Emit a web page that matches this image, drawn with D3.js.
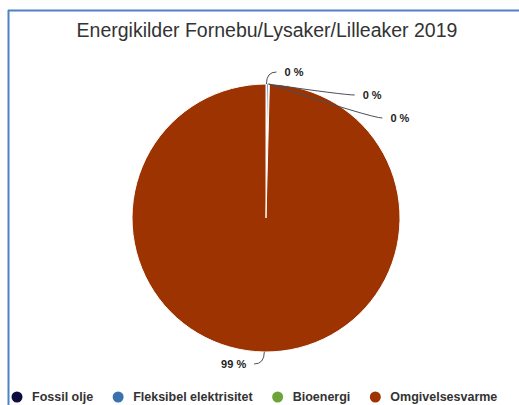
<!DOCTYPE html>
<html>
<head>
<meta charset="utf-8">
<script src="https://cdn.jsdelivr.net/npm/d3@7"></script>
<style>
  html, body { margin: 0; padding: 0; background: #fff; }
  svg { display: block; font-family: "Liberation Sans", Arial, Helvetica, sans-serif; }
</style>
</head>
<body>
<svg id="chart" width="519" height="405"></svg>
<script>
// Energy sources, share of total (percent)
const categories = ["Fossil olje", "Fleksibel elektrisitet", "Bioenergi", "Omgivelsesvarme"];
const values = [0.1, 0.2, 0.1, 99.6];
const colors = ["#0c0c40", "#3b72ad", "#6ca43a", "#9c3300"];
const title = "Energikilder Fornebu/Lysaker/Lilleaker 2019";

const width = 519, height = 405;
const svg = d3.select("#chart");

// frame
svg.append("line").attr("x1", 8).attr("x2", width).attr("y1", 10.5).attr("y2", 10.5)
  .attr("stroke", "#4f81c4").attr("stroke-width", 2);
svg.append("line").attr("x1", 8.5).attr("x2", 8.5).attr("y1", 10).attr("y2", height)
  .attr("stroke", "#4f81c4").attr("stroke-width", 2);

// title
svg.append("text")
  .attr("x", 267).attr("y", 37)
  .attr("text-anchor", "middle")
  .attr("font-size", 19.5)
  .attr("fill", "#333333")
  .text(title);

// pie
const cx = 266, cy = 218, r = 134;
const data = categories.map((c, i) => ({ name: c, value: values[i], color: colors[i] }));
const total = d3.sum(values);
const pie = d3.pie().sort(null).value(d => d.value).startAngle(0).endAngle(2 * Math.PI);
const arcs = pie(data);
const arc = d3.arc().innerRadius(0).outerRadius(r);

const g = svg.append("g").attr("transform", `translate(${cx},${cy})`);
g.selectAll("path.slice").data(arcs).join("path")
  .attr("class", "slice")
  .attr("d", arc)
  .attr("fill", d => d.data.color)
  .attr("stroke", "#ffffff")
  .attr("stroke-width", 1)
  .attr("stroke-linejoin", "round");

// data labels placed on an outer ring, pushed apart vertically
const labelR = r + 12, spacing = 23;
const labels = arcs.map(a => {
  const mid = (a.startAngle + a.endAngle) / 2;
  return {
    a, mid,
    side: mid <= Math.PI ? 1 : -1,
    y: -labelR * Math.cos(mid),
    text: Math.floor(a.data.value / total * 100) + " %"
  };
});
[1, -1].forEach(side => {
  const group = labels.filter(l => l.side === side).sort((p, q) => p.y - q.y);
  for (let i = 1; i < group.length; i++) {
    if (group[i].y < group[i - 1].y + spacing) group[i].y = group[i - 1].y + spacing;
  }
});
labels.forEach(l => {
  l.x = l.side * Math.sqrt(Math.max(0, labelR * labelR - l.y * l.y));
});

const lg = svg.append("g").attr("transform", `translate(${cx},${cy})`);
lg.selectAll("path.connector").data(labels).join("path")
  .attr("class", "connector")
  .attr("fill", "none")
  .attr("stroke", "#4a4f5a")
  .attr("stroke-width", 1)
  .attr("d", l => {
    const ex = r * Math.sin(l.mid), ey = -r * Math.cos(l.mid);
    return `M${ex},${ey}Q${l.x},${l.y} ${l.x + l.side * 10},${l.y}`;
  });
lg.selectAll("text.label").data(labels).join("text")
  .attr("class", "label")
  .attr("x", l => l.x + l.side * 18)
  .attr("y", l => l.y)
  .attr("dy", "0.35em")
  .attr("text-anchor", l => l.side > 0 ? "start" : "end")
  .attr("font-size", 11)
  .attr("font-weight", "bold")
  .attr("fill", "#222222")
  .text(l => l.text);

// legend
const legend = svg.append("g").attr("transform", "translate(0,397)");
let x0 = 12;
data.forEach(d => {
  const item = legend.append("g").attr("transform", `translate(${x0},0)`);
  item.append("circle").attr("cx", 5).attr("cy", 0).attr("r", 5.5).attr("fill", d.color);
  const t = item.append("text")
    .attr("x", 20).attr("y", 0).attr("dy", "0.35em")
    .attr("font-size", 12.5).attr("font-weight", "bold")
    .attr("fill", "#333333")
    .text(d.name);
  x0 += 20 + t.node().getComputedTextLength() + 20;
});
</script>
</body>
</html>
